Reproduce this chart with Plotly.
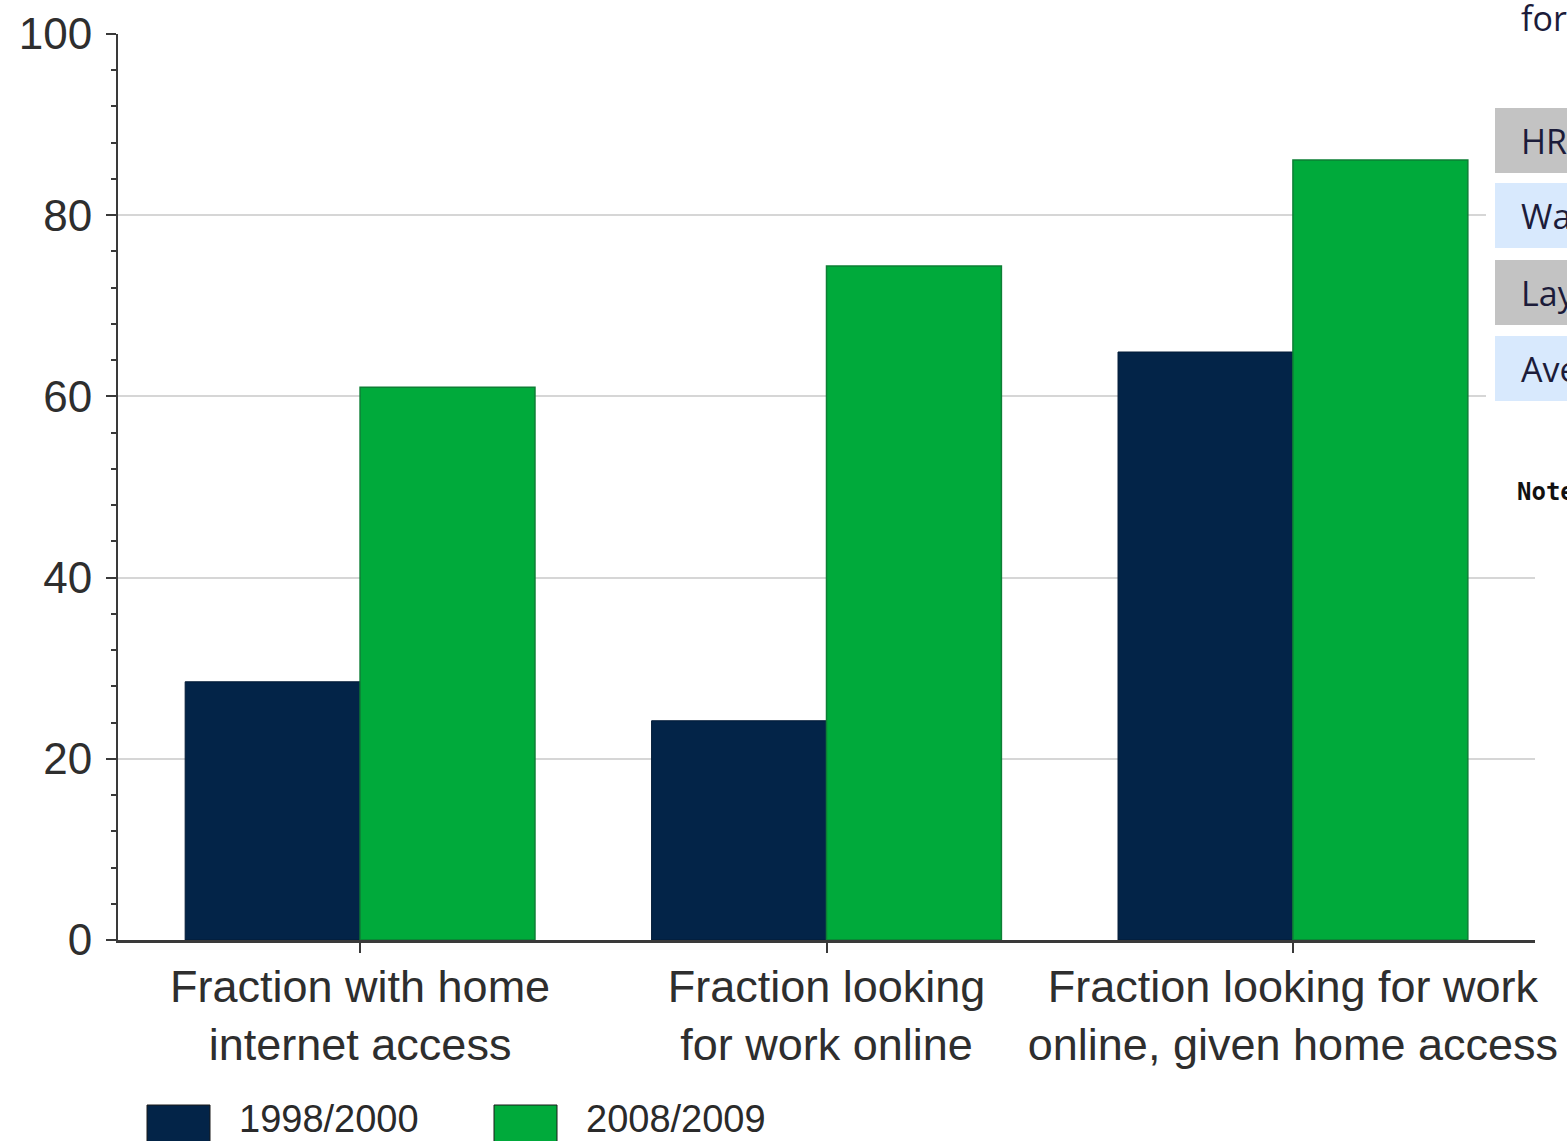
import plotly.graph_objects as go

# Survey measures for job seekers, two periods
categories = [
    "Fraction with home<br>internet access",
    "Fraction looking<br>for work online",
    "Fraction looking for work<br>online, given home access",
]
series_names = ["1998/2000", "2008/2009"]
values_1998_2000 = [28.5, 24.2, 64.9]
values_2008_2009 = [61.0, 74.4, 86.1]
y_ticks = [0, 20, 40, 60, 80, 100]

# Side panel fragments next to the chart
panel_rows = ["HR", "Wa", "Lay", "Ave"]

NAVY = "#032448"
GREEN = "#00aa3b"
FONT = "Liberation Sans, Arial, sans-serif"

W, H = 1567, 1141
ML, MR, MT, MB = 118, 32, 34, 201
PW, PH = W - ML - MR, H - MT - MB


def px(xp):
    return (xp - ML) / PW


def py(yp):
    return (H - MB - yp) / PH


fig = go.Figure()
fig.add_trace(go.Bar(x=categories, y=values_1998_2000, name=series_names[0],
                     marker=dict(color=NAVY, line=dict(color="#021a36", width=1))))
fig.add_trace(go.Bar(x=categories, y=values_2008_2009, name=series_names[1],
                     marker=dict(color=GREEN, line=dict(color="#0d7f35", width=1.5))))

shapes = []
annotations = []

# Legend drawn as large swatches under the axis
legend_items = [(147, 210, 237, NAVY), (494, 557, 584, GREEN)]
for (x0, x1, tx, col), name in zip(legend_items, series_names):
    shapes.append(dict(type="rect", xref="paper", yref="paper",
                       x0=px(x0), x1=px(x1), y0=py(1150), y1=py(1105),
                       fillcolor=col, line=dict(color="#1a1a1a", width=1)))
    annotations.append(dict(text=name, xref="paper", yref="paper",
                            x=px(tx), y=py(1119), xanchor="left", yanchor="middle",
                            showarrow=False, font=dict(family=FONT, size=38, color="#2a2a2a")))

# Neighbouring page panel on the right
shapes.append(dict(type="rect", xref="paper", yref="paper", layer="above",
                   x0=px(1486), x1=px(1580), y0=py(540), y1=py(0),
                   fillcolor="white", line=dict(width=0)))
row_tops = [108, 183, 260, 336]
row_colors = ["#c3c3c3", "#d8e9fd", "#c3c3c3", "#d8e9fd"]
for top, col, label in zip(row_tops, row_colors, panel_rows):
    shapes.append(dict(type="rect", xref="paper", yref="paper", layer="above",
                       x0=px(1495), x1=px(1580), y0=py(top + 65), y1=py(top),
                       fillcolor=col, line=dict(width=0)))
    annotations.append(dict(text=label, xref="paper", yref="paper",
                            x=px(1519), y=py(top + 33), xanchor="left", yanchor="middle",
                            showarrow=False,
                            font=dict(family="Open Sans, sans-serif", size=34, color="#1c1c3a")))
annotations.append(dict(text="for", xref="paper", yref="paper",
                        x=px(1519), y=py(18), xanchor="left", yanchor="middle",
                        showarrow=False,
                        font=dict(family="Open Sans, sans-serif", size=34, color="#1c1c3a")))
annotations.append(dict(text="<b>Note</b>", xref="paper", yref="paper",
                        x=px(1515), y=py(492), xanchor="left", yanchor="middle",
                        showarrow=False,
                        font=dict(family="DejaVu Sans Mono, monospace", size=24, color="#111")))

fig.update_layout(
    width=W, height=H,
    margin=dict(l=ML, r=MR, t=MT, b=MB, autoexpand=False),
    paper_bgcolor="white", plot_bgcolor="white",
    barmode="group", bargap=0.25, bargroupgap=0,
    showlegend=False,
    font=dict(family=FONT, color="#2e2e2e"),
    shapes=shapes, annotations=annotations,
)
fig.update_xaxes(
    range=[-0.519, 2.519], automargin=False,
    showline=True, linecolor="#3a3a3a", linewidth=2.5,
    ticks="outside", ticklen=10, tickcolor="#3a3a3a", tickwidth=1.5,
    tickfont=dict(family=FONT, size=45, color="#2e2e2e"), showgrid=False,
    ticklabelstandoff=-5,
)
fig.update_yaxes(
    range=[0, 100], tickvals=y_ticks, automargin=False,
    showline=True, linecolor="#3a3a3a", linewidth=2,
    ticks="outside", ticklen=10, tickcolor="#3a3a3a", tickwidth=1.5,
    minor=dict(dtick=4, ticks="outside", ticklen=5, tickcolor="#3a3a3a", showgrid=False),
    showgrid=True, gridcolor="#d6d6d6", gridwidth=2, zeroline=False,
    tickfont=dict(family=FONT, size=44, color="#2e2e2e"), ticklabelstandoff=5,
)

fig.write_html("out.html")
